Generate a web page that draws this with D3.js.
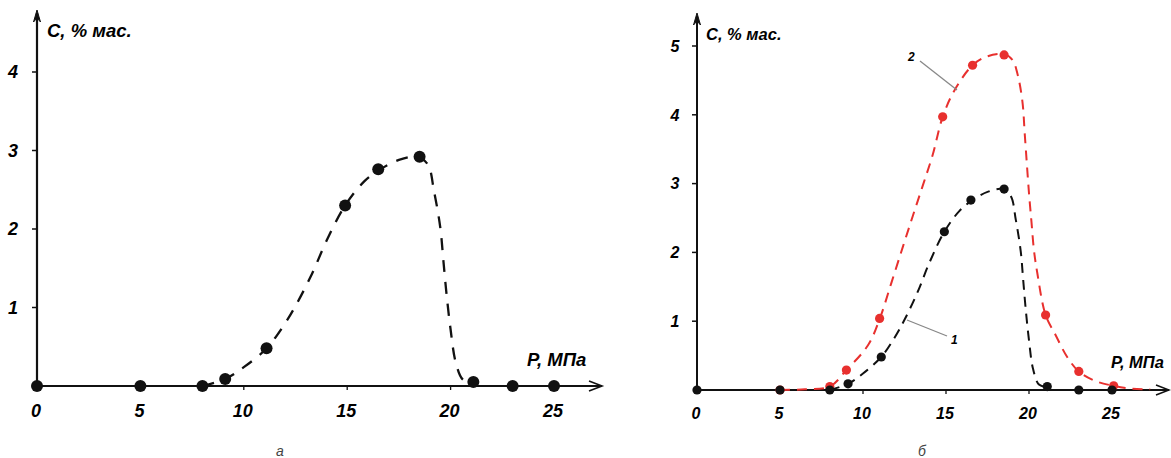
<!DOCTYPE html>
<html>
<head>
<meta charset="utf-8">
<script src="https://cdn.jsdelivr.net/npm/d3@7"></script>
<style>
  body { margin: 0; background: #fff; }
  svg { display: block; }
</style>
</head>
<body>
<div id="chart"></div>
<script>
// measured points, P (MPa) -> C (% mass)
var pressure1 = [0, 5, 8, 9.1, 11.1, 14.9, 16.5, 18.5, 21.1, 23, 25];
var conc1 = [0, 0, 0, 0.09, 0.48, 2.3, 2.76, 2.92, 0.05, 0, 0];
var pressure2 = [5, 8, 9, 11, 14.8, 16.6, 18.5, 21, 23, 25.1];
var conc2 = [0, 0.05, 0.29, 1.04, 3.97, 4.72, 4.87, 1.09, 0.27, 0.06];

// dashed trend curves
var trendP1 = [8, 9.1, 10, 11.1, 11.9, 12.5, 13.3, 14, 14.9, 15.8, 16.6, 17.5, 18.4, 18.9, 19.2, 19.5, 19.65, 19.8, 20.0, 20.25, 20.6, 21.1];
var trendC1 = [0, 0.09, 0.24, 0.48, 0.76, 1.02, 1.43, 1.85, 2.3, 2.6, 2.76, 2.88, 2.92, 2.82, 2.48, 2.02, 1.6, 1.18, 0.72, 0.3, 0.08, 0.04];
var trendP2 = [5, 6.5, 8, 9, 10.3, 11, 11.7, 12.4, 13, 13.6, 14.2, 14.8, 15.5, 16.6, 17.5, 18.5, 19.0, 19.3, 19.6, 19.75, 20.0, 20.15, 20.3, 20.5, 21, 21.6, 22.3, 23, 24, 25.1, 26.2, 27.3];
var trendC2 = [0, 0.01, 0.05, 0.29, 0.65, 1.03, 1.55, 2.08, 2.53, 2.97, 3.42, 3.97, 4.35, 4.72, 4.85, 4.88, 4.8, 4.6, 4.2, 3.7, 2.86, 2.44, 2.03, 1.7, 1.09, 0.8, 0.48, 0.27, 0.13, 0.06, 0.02, 0.01];

var xTicks = [0, 5, 10, 15, 20, 25];
var yTicksA = [1, 2, 3, 4];
var yTicksB = [1, 2, 3, 4, 5];

var svg = d3.select("#chart").append("svg")
    .attr("width", 1171)
    .attr("height", 458);

var fontFam = "'Liberation Sans', Arial, sans-serif";
var red = "#e8302e";

function zip(a, b) {
    return a.map(function (v, i) { return [v, b[i]]; });
}

function drawPanel(o) {
    var g = svg.append("g");
    var x = d3.scaleLinear().domain([0, 25]).range([o.left, o.x25]);
    var y = d3.scaleLinear().domain([0, o.ymax]).range([o.base, o.ytop]);

    // axes lines
    g.append("line")
        .attr("x1", o.left).attr("y1", o.base)
        .attr("x2", o.left).attr("y2", o.arrowTop + 3)
        .attr("stroke", "#111").attr("stroke-width", o.axisW);
    g.append("line")
        .attr("x1", o.left).attr("y1", o.base)
        .attr("x2", o.arrowRight).attr("y2", o.base)
        .attr("stroke", "#111").attr("stroke-width", o.axisW);

    // arrow heads
    g.append("path")
        .attr("d", "M" + (o.left - 3.5) + "," + (o.arrowTop + 12) + "L" + o.left + "," + o.arrowTop + "L" + (o.left + 3.5) + "," + (o.arrowTop + 12) + "L" + o.left + "," + (o.arrowTop + 8) + "Z")
        .attr("fill", "#111").attr("stroke", "#111").attr("stroke-width", 1);
    g.append("path")
        .attr("d", "M" + (o.arrowRight - 13) + "," + (o.base - 5) + "L" + o.arrowRight + "," + o.base + "L" + (o.arrowRight - 13) + "," + (o.base + 5))
        .attr("fill", "none").attr("stroke", "#111").attr("stroke-width", 1.6);

    // y ticks
    g.selectAll(".yt").data(o.yTicks).enter().append("line")
        .attr("x1", o.left - 5).attr("x2", o.left)
        .attr("y1", function (d) { return y(d); })
        .attr("y2", function (d) { return y(d); })
        .attr("stroke", "#111").attr("stroke-width", 1.5);
    g.selectAll(".yl").data(o.yTicks).enter().append("text")
        .attr("x", o.yLabelX)
        .attr("y", function (d) { return y(d) + o.tickFont * 0.36; })
        .attr("text-anchor", "middle")
        .attr("font-family", fontFam)
        .attr("font-weight", "bold").attr("font-style", "italic")
        .attr("font-size", o.tickFont)
        .text(function (d) { return d; });

    // x ticks
    g.selectAll(".xt").data(xTicks.slice(1)).enter().append("line")
        .attr("x1", function (d) { return x(d); })
        .attr("x2", function (d) { return x(d); })
        .attr("y1", o.base).attr("y2", o.base + 4)
        .attr("stroke", "#111").attr("stroke-width", 1.3);
    g.selectAll(".xl").data(xTicks).enter().append("text")
        .attr("x", function (d) { return x(d) - 1; })
        .attr("y", o.xLabelY)
        .attr("text-anchor", "middle")
        .attr("font-family", fontFam)
        .attr("font-weight", "bold").attr("font-style", "italic")
        .attr("font-size", o.tickFont)
        .text(function (d) { return d; });

    // axis titles
    g.append("text")
        .attr("x", o.cTitle[0]).attr("y", o.cTitle[1])
        .attr("font-family", fontFam)
        .attr("font-weight", "bold").attr("font-style", "italic")
        .attr("font-size", o.titleFont)
        .text("C, % мас.");
    g.append("text")
        .attr("x", o.pTitle[0]).attr("y", o.pTitle[1])
        .attr("font-family", fontFam)
        .attr("font-weight", "bold").attr("font-style", "italic")
        .attr("font-size", o.titleFont)
        .text("P, МПа");

    // caption
    g.append("text")
        .attr("x", o.caption[0]).attr("y", o.caption[1])
        .attr("text-anchor", "middle")
        .attr("font-family", fontFam)
        .attr("font-style", "italic")
        .attr("font-size", 14)
        .attr("fill", "#444")
        .text(o.caption[2]);

    var line = d3.line()
        .x(function (d) { return x(d[0]); })
        .y(function (d) { return y(d[1]); })
        .curve(d3.curveCatmullRom.alpha(0.5));

    o.series.forEach(function (s) {
        g.append("path")
            .datum(zip(s.tp, s.tc))
            .attr("d", line)
            .attr("fill", "none")
            .attr("stroke", s.color)
            .attr("stroke-width", o.lineW)
            .attr("stroke-dasharray", o.dash);
        g.selectAll(null).data(zip(s.p, s.c)).enter().append("circle")
            .attr("cx", function (d) { return x(d[0]); })
            .attr("cy", function (d) { return y(d[1]); })
            .attr("r", o.r)
            .attr("fill", s.color);
    });
    return { x: x, y: y, g: g };
}

// panel a
drawPanel({
    left: 37, x25: 554, base: 386, ytop: 72, ymax: 4,
    arrowTop: 10, arrowRight: 602, axisW: 2.2,
    yTicks: yTicksA, yLabelX: 13, xLabelY: 417,
    tickFont: 18, titleFont: 18.5,
    cTitle: [47, 37], pTitle: [527, 366],
    caption: [280, 456, "а"],
    lineW: 2.3, dash: "12,10", r: 6,
    series: [{ p: pressure1, c: conc1, tp: trendP1, tc: trendC1, color: "#111" }]
});

// panel b
var pb = drawPanel({
    left: 697, x25: 1112, base: 390, ytop: 46, ymax: 5,
    arrowTop: 13, arrowRight: 1169, axisW: 2,
    yTicks: yTicksB, yLabelX: 675, xLabelY: 419,
    tickFont: 16, titleFont: 16.5,
    cTitle: [706, 40], pTitle: [1111, 368],
    caption: [922, 456, "б"],
    lineW: 2, dash: "10,7", r: 4.6,
    series: [
        { p: pressure2, c: conc2, tp: trendP2, tc: trendC2, color: red },
        { p: pressure1, c: conc1, tp: trendP1, tc: trendC1, color: "#111" }
    ]
});

// curve labels with leader lines
pb.g.append("line")
    .attr("x1", 920).attr("y1", 61).attr("x2", 957).attr("y2", 90)
    .attr("stroke", "#888").attr("stroke-width", 1.3);
pb.g.append("text")
    .attr("x", 908).attr("y", 61)
    .attr("font-family", fontFam).attr("font-weight", "bold").attr("font-style", "italic")
    .attr("font-size", 12).text("2");
pb.g.append("line")
    .attr("x1", 907).attr("y1", 320).attr("x2", 947).attr("y2", 336)
    .attr("stroke", "#888").attr("stroke-width", 1.3);
pb.g.append("text")
    .attr("x", 951).attr("y", 344)
    .attr("font-family", fontFam).attr("font-weight", "bold").attr("font-style", "italic")
    .attr("font-size", 12).text("1");
</script>
</body>
</html>
